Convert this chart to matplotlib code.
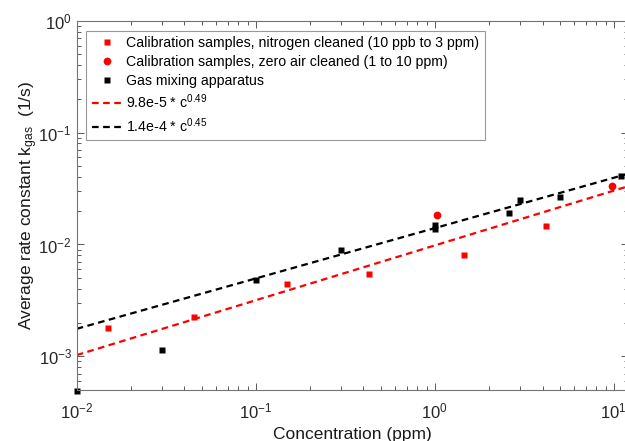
import numpy as np
import matplotlib
matplotlib.use('Agg')
import matplotlib.pyplot as plt
from matplotlib.lines import Line2D
from matplotlib.ticker import LogLocator, FuncFormatter, NullFormatter

plt.rcParams['font.family'] = ['Liberation Sans', 'DejaVu Sans']
plt.rcParams['mathtext.fontset'] = 'custom'
plt.rcParams['mathtext.rm'] = 'Liberation Sans'
plt.rcParams['mathtext.it'] = 'Liberation Sans:italic'

# nitrogen cleaned calibration samples
n2_conc = [0.015, 0.045, 0.15, 0.43, 1.45, 4.2]
n2_k = [1.79e-3, 2.24e-3, 4.43e-3, 5.4e-3, 8.1e-3, 1.46e-2]

# zero air cleaned calibration samples
air_conc = [1.03, 9.75]
air_k = [1.84e-2, 3.3e-2]

# gas mixing apparatus
mix_conc = [0.01, 0.03, 0.1, 0.3, 1.0, 1.0, 2.6, 3.0, 5.0, 11.0]
mix_k = [4.9e-4, 1.15e-3, 4.77e-3, 9.0e-3, 1.48e-2, 1.38e-2, 1.92e-2, 2.5e-2, 2.68e-2, 4.07e-2]

# power law fits k = a * c^b (c scaled to the fit's units)
fit_a = [9.8e-5, 1.4e-4]
fit_b = [0.49, 0.45]
fit_colors = ['red', 'black']
unit_scale = 100

fig = plt.figure(figsize=(6.25, 4.41), dpi=100)
ax = fig.add_axes([0.1227, 0.1156, 0.882, 0.8374])

c = np.logspace(-2, np.log10(12), 200)
for a, b, col in zip(fit_a, fit_b, fit_colors):
    ax.plot(c, a * unit_scale * c ** b, color=col, lw=1.6, linestyle=(0, (3, 2)))

ax.plot(n2_conc, n2_k, 's', color='red', ms=4.8, mec='none', clip_on=False)
ax.plot(air_conc, air_k, 'o', color='red', ms=5.6, mec='none', clip_on=False)
ax.plot(mix_conc, mix_k, 's', color='black', ms=4.8, mec='none', clip_on=False)

ax.set_xscale('log')
ax.set_yscale('log')
ax.set_xlim(0.01, 12)
ax.set_ylim(5e-4, 1)

fmt = FuncFormatter(lambda v, p: '$10^{%d}$' % round(np.log10(v)))
for axis in (ax.xaxis, ax.yaxis):
    axis.set_major_locator(LogLocator(base=10, numticks=10))
    axis.set_minor_locator(LogLocator(base=10, subs=np.arange(2, 10), numticks=20))
    axis.set_major_formatter(fmt)
    axis.set_minor_formatter(NullFormatter())

ax.tick_params(which='both', direction='in', top=True, right=True, colors='0.35',
               labelcolor='0.15', labelsize=12, width=0.7)
ax.tick_params(which='major', length=5)
ax.tick_params(which='minor', length=3)
ax.tick_params(axis='x', pad=8)
for s in ax.spines.values():
    s.set_color('0.45')
    s.set_linewidth(0.8)

ax.set_xlabel('Concentration (ppm)', fontsize=12.5, color='0.1', labelpad=4)
ax.set_ylabel('Average rate constant k$_{\\mathrm{gas}}$  (1/s)', fontsize=12.5,
              color='0.1', labelpad=-1)

handles = [
    Line2D([], [], marker='s', ls='none', color='red', ms=4.8, mec='none'),
    Line2D([], [], marker='o', ls='none', color='red', ms=5.6, mec='none'),
    Line2D([], [], marker='s', ls='none', color='black', ms=4.8, mec='none'),
    Line2D([], [], color='red', lw=1.6, linestyle=(0, (3, 2))),
    Line2D([], [], color='black', lw=1.6, linestyle=(0, (3, 2))),
]
labels = [
    'Calibration samples, nitrogen cleaned (10 ppb to 3 ppm)',
    'Calibration samples, zero air cleaned (1 to 10 ppm)',
    'Gas mixing apparatus',
    '9.8e-5 * c$^{0.49}$',
    '1.4e-4 * c$^{0.45}$',
]
leg = ax.legend(handles, labels, loc='upper left', bbox_to_anchor=(0.0169, 0.973),
                borderaxespad=0, fontsize=10.2, frameon=True, fancybox=False,
                handlelength=2.2, handletextpad=0.25, labelspacing=0.34,
                borderpad=0.4)
leg.get_frame().set_edgecolor('0.5')
leg.get_frame().set_linewidth(0.8)

fig.savefig('out.png', dpi=100)
